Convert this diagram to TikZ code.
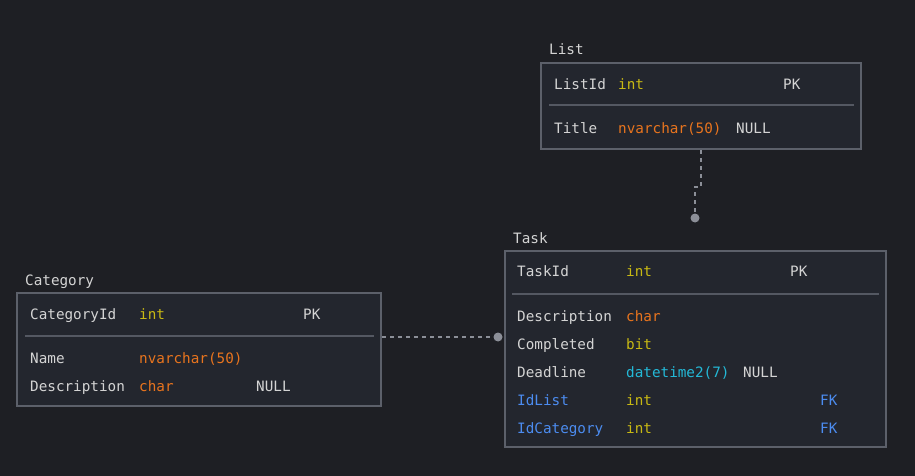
\documentclass[tikz,border=0pt]{standalone}
\usepackage{fontspec}
\setmonofont{DejaVu Sans Mono}
\usepackage{tikz}
\usetikzlibrary{positioning}

\begin{document}
\begin{tikzpicture}[x=1pt, y=-1pt,
    every node/.style={font=\ttfamily\fontsize{14.3}{15}\selectfont, text=txt, inner sep=0pt,
        text height=12.5pt, text depth=1.5pt, anchor=west},
    table/.style={draw=edge, line width=2.5pt, fill=card},
    sep/.style={draw=rule, line width=1.2pt},
    link/.style={draw=wire, line width=1.5pt, dash pattern=on 4pt off 4pt},
    typeA/.style={text=colInt},
    typeB/.style={text=colStr},
    typeC/.style={text=colDate},
    keyF/.style={text=colFK}]

% ------------------------
% Colors
% ------------------------
\definecolor{bg}{RGB}{30,31,36}
\definecolor{card}{RGB}{35,38,46}
\definecolor{edge}{RGB}{92,96,106}
\definecolor{rule}{RGB}{84,88,98}
\definecolor{wire}{RGB}{140,143,152}
\definecolor{txt}{RGB}{212,212,212}
\definecolor{colInt}{RGB}{200,185,20}
\definecolor{colStr}{RGB}{232,116,30}
\definecolor{colDate}{RGB}{35,185,215}
\definecolor{colFK}{RGB}{76,140,240}

\fill[bg] (0,0) rectangle (915,476);
\useasboundingbox (0,0) rectangle (915,476);

% ------------------------
% List table
% ------------------------
\draw[table] (541,63) rectangle (861,149);
\node (listname) at (549,49) {List};
\draw[sep] (549,105) -- (854,105);
\node (listid) at (554,84) {ListId};
\node[typeA] (listidT) at (618,84) {int};
\node (listidK) at (783,84) {PK};
\node (title) at (554,128) {Title};
\node[typeB] (titleT) at (618,128) {nvarchar(50)};
\node (titleN) at (736,128) {NULL};

% ------------------------
% Category table
% ------------------------
\draw[table] (17,293) rectangle (381,406);
\node (catname) at (25,280) {Category};
\draw[sep] (25,336) -- (374,336);
\node (catid) at (30,314) {CategoryId};
\node[typeA] (catidT) at (139,314) {int};
\node (catidK) at (303,314) {PK};
\node (catnm) at (30,358) {Name};
\node[typeB] (catnmT) at (139,358) {nvarchar(50)};
\node (catdesc) at (30,386) {Description};
\node[typeB] (catdescT) at (139,386) {char};
\node (catdescN) at (256,386) {NULL};

% ------------------------
% Task table
% ------------------------
\draw[table] (505,251) rectangle (886,447);
\node (taskname) at (513,238) {Task};
\draw[sep] (512,294) -- (879,294);
\node (taskid) at (517,271) {TaskId};
\node[typeA] (taskidT) at (626,271) {int};
\node (taskidK) at (790,271) {PK};
\node (tdesc) at (517,316) {Description};
\node[typeB] (tdescT) at (626,316) {char};
\node (tdone) at (517,344) {Completed};
\node[typeA] (tdoneT) at (626,344) {bit};
\node (tdead) at (517,372) {Deadline};
\node[typeC] (tdeadT) at (626,372) {datetime2(7)};
\node (tdeadN) at (743,372) {NULL};
\foreach \y/\n in {400/IdList, 428/IdCategory} {
    \node[keyF] (f\n) at (517,\y) {\n};
    \node[typeA] (f\n T) at (626,\y) {int};
    \node[keyF] (f\n K) at (820,\y) {FK};
}

% ------------------------
% Relations
% ------------------------
\coordinate (catout) at (382,337);
\coordinate (catin) at (498,337);
\draw[link] (catout) -- (catin);
\fill[wire] (catin) circle (4.5);

\coordinate (listout) at (701,150);
\coordinate (listbend) at (701,187);
\coordinate (listin) at (695,218);
\draw[link] (listout) -- (listbend) -- (listbend -| listin) -- (listin);
\fill[wire] (listin) circle (4.5);

\end{tikzpicture}
\end{document}
